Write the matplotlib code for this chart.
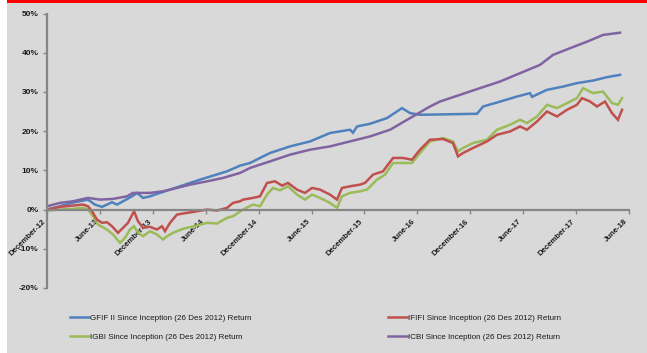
import matplotlib
matplotlib.use("Agg")
import matplotlib.pyplot as plt
from matplotlib.patches import Rectangle
from matplotlib.ticker import FuncFormatter

# months since December 2012
tick_labels = ["December-12", "June-13", "December-13", "June-14", "December-14", "June-15",
               "December-15", "June-16", "December-16", "June-17", "December-17", "June-18"]

gfif_m = [0, 1.47, 2.95, 4.65, 5.44, 6.24, 6.8, 7.37, 7.94, 8.62, 9.64, 10.21, 10.89, 11.68,
          12.81, 13.95, 15.08, 16.22, 17.35, 18.83, 20.41, 21.89, 23.02, 25.29, 27.56, 29.83,
          32.09, 34.36, 34.7, 35.16, 36.63, 38.56, 40.26, 41.17, 42.3, 48.77, 49.45, 51.03,
          53.3, 54.77, 55.0, 56.7, 58.52, 60.1, 61.92, 63.5, 64.98]
gfif_v = [0.0, 0.84, 1.78, 2.54, 1.27, 0.69, 1.27, 1.86, 1.27, 2.11, 3.38, 4.25, 2.98, 3.38,
          4.25, 5.09, 5.93, 6.79, 7.63, 8.65, 9.75, 11.2, 11.88, 14.43, 16.11, 17.38,
          19.52, 20.36, 19.59, 21.2, 21.88, 23.33, 25.88, 24.6, 24.17, 24.43, 26.28, 27.3,
          28.83, 29.69, 28.75, 30.53, 31.37, 32.24, 32.9, 33.77, 34.35]

ifif_m = [0, 1.47, 2.95, 4.08, 4.65, 5.1, 5.67, 6.24, 6.8, 7.37, 8.05, 8.62, 9.19, 9.87, 10.32,
          10.89, 11.68, 12.47, 13.04, 13.38, 13.95, 14.74, 15.88, 17.01, 18.14, 19.28, 20.41,
          21.09, 21.89, 22.23, 23.36, 24.16, 24.95, 25.86, 26.65, 27.33, 28.35, 29.26, 30.05,
          30.96, 32.09, 32.89, 33.45, 34.36, 35.5, 36.06, 36.97, 38.1, 39.24, 40.37, 41.39,
          42.3, 43.43, 44.91, 46.04, 46.61, 47.18, 48.31, 49.9, 51.03, 52.51, 53.64, 54.43,
          55.57, 56.7, 57.84, 58.97, 60.1, 60.67, 61.58, 62.37, 63.28, 64.07, 64.75, 65.21]
ifif_v = [0.0, 0.69, 1.02, 1.27, 0.84, -0.43, -2.54, -3.38, -3.23, -4.25, -5.93, -4.66, -3.38,
          -0.43, -2.98, -4.66, -4.4, -5.09, -4.25, -5.52, -3.38, -1.27, -0.84, -0.43, 0.0, -0.25,
          0.43, 1.7, 2.11, 2.54, 2.98, 3.38, 6.79, 7.2, 6.11, 6.79, 5.09, 4.25, 5.52, 5.09, 3.82,
          2.54, 5.52, 5.93, 6.36, 6.79, 8.91, 9.75, 13.16, 13.16, 12.72, 15.27, 17.81, 17.99,
          16.97, 13.56, 14.43, 15.7, 17.38, 19.08, 19.92, 21.2, 20.36, 22.47, 25.01, 23.74,
          25.45, 26.72, 28.42, 27.56, 26.28, 27.56, 24.6, 22.9, 25.45]

igbi_m = [0, 1.47, 2.95, 4.08, 4.65, 5.22, 5.78, 6.8, 7.48, 8.28, 8.85, 9.41, 9.87, 10.32,
          10.89, 11.68, 12.47, 13.16, 13.61, 14.29, 15.42, 17.01, 18.14, 19.28, 20.41, 21.09,
          22.23, 23.36, 24.16, 24.95, 25.63, 26.42, 27.33, 28.35, 29.26, 30.05, 30.96, 32.09,
          32.89, 33.45, 34.36, 35.5, 36.29, 37.42, 38.33, 39.24, 40.37, 41.39, 42.3, 43.43,
          44.91, 46.04, 46.61, 47.18, 48.31, 49.9, 51.03, 52.51, 53.64, 54.43, 55.57, 56.7,
          57.84, 58.97, 60.1, 60.79, 61.92, 63.05, 64.07, 64.75, 65.21]
igbi_v = [-0.25, 0.0, 0.18, 0.43, 0.0, -1.7, -3.82, -5.09, -6.36, -8.47, -7.2, -5.09, -4.25,
          -5.93, -6.79, -5.52, -6.36, -7.63, -6.79, -5.93, -4.91, -4.07, -3.38, -3.56, -2.11,
          -1.7, 0.0, 1.27, 0.84, 3.82, 5.52, 4.91, 5.93, 3.82, 2.54, 3.82, 2.98, 1.7, 0.43,
          3.38, 4.25, 4.66, 5.09, 7.63, 8.91, 11.88, 11.88, 11.88, 14.43, 17.38, 18.24, 17.38,
          14.83, 15.7, 16.97, 17.81, 20.36, 21.63, 22.9, 22.06, 23.74, 26.72, 25.88, 27.15,
          28.42, 30.97, 29.69, 30.1, 27.15, 26.72, 28.42]

icbi_m = [0, 1.47, 2.95, 4.65, 6.01, 7.48, 9.07, 9.75, 11.68, 13.16, 14.29, 16.22, 18.14,
          19.96, 21.89, 23.02, 25.29, 27.56, 29.83, 32.09, 34.36, 36.63, 38.9, 41.17, 43.43,
          44.57, 46.84, 49.1, 51.37, 53.64, 55.91, 57.38, 59.31, 61.24, 63.05, 64.98]
icbi_v = [0.84, 1.7, 2.11, 2.98, 2.54, 2.72, 3.38, 4.25, 4.25, 4.66, 5.27, 6.36, 7.2, 8.07,
          9.34, 10.61, 12.29, 14.0, 15.27, 16.11, 17.38, 18.65, 20.36, 23.33, 26.28, 27.56,
          29.26, 30.97, 32.65, 34.78, 36.9, 39.44, 41.15, 42.82, 44.53, 45.11]

names = ["GFIF II Since Inception (26 Des 2012) Return",
         "IGBI Since Inception (26 Des 2012) Return",
         "IFIFI Since Inception (26 Des 2012) Return",
         "ICBI Since Inception (26 Des 2012) Return"]
colors = ["#4F81BD", "#9BBB59", "#C0504D", "#8064A2"]

FONT = ["Liberation Sans", "DejaVu Sans"]
plt.rcParams["font.family"] = FONT

W, H = 647, 353
fig = plt.figure(figsize=(W / 100, H / 100), dpi=100)
fig.patch.set_facecolor("#D9D9D9")
fig.patches.append(Rectangle((0, 0), 7 / W, 1, transform=fig.transFigure,
                             facecolor="white", edgecolor="none", zorder=0))
fig.patches.append(Rectangle((7 / W, 1 - 3 / H), 1, 3 / H, transform=fig.transFigure,
                             facecolor="#FF0000", edgecolor="none", zorder=0))

left, right = 47 / W, 629 / W
top, bottom = 1 - 13.5 / H, 1 - 288 / H
ax = fig.add_axes([left, bottom, right - left, top - bottom])
ax.set_facecolor("none")

for s in ["top", "right"]:
    ax.spines[s].set_visible(False)
ax.spines["bottom"].set_position(("data", 0))
for s in ["left", "bottom"]:
    ax.spines[s].set_color("#868686")
    ax.spines[s].set_linewidth(1.6)

series = [(gfif_m, gfif_v), (igbi_m, igbi_v), (ifif_m, ifif_v), (icbi_m, icbi_v)]
handles = []
for (m, v), c, n in zip(series, colors, names):
    ln, = ax.plot(m, v, color=c, lw=1.8, label=n, solid_joinstyle="miter")
    handles.append(ln)

ax.set_xlim(0, 66)
ax.set_ylim(-20, 50)
ax.set_yticks(range(-20, 51, 10))
ax.yaxis.set_major_formatter(FuncFormatter(lambda y, p: f"{y:.0f}%"))
ax.set_xticks(range(0, 67, 6))
ax.set_xticklabels(tick_labels)
ax.tick_params(axis="y", colors="#868686", length=3, width=1, labelcolor="#1a1a1a",
               labelsize=6, pad=3)
ax.tick_params(axis="x", colors="#868686", length=3, width=1, labelcolor="#1a1a1a",
               labelsize=5.6, pad=3, labelrotation=45)
for lab in ax.get_xticklabels():
    lab.set_ha("right")
    lab.set_va("top")
    lab.set_fontweight("bold")
for lab in ax.get_yticklabels():
    lab.set_fontweight("bold")

leg_kw = dict(loc="center left", frameon=False, fontsize=5.8, handlelength=2.4,
              handletextpad=0.05, labelspacing=1.35, borderpad=0, borderaxespad=0)
ymid = 1 - 327.5 / H
leg1 = fig.legend(handles=handles[:2], bbox_to_anchor=(70 / W, ymid), **leg_kw)
leg2 = fig.legend(handles=handles[2:], bbox_to_anchor=(388 / W, ymid), **leg_kw)
for lg in (leg1, leg2):
    for t in lg.get_texts():
        t.set_color("#1a1a1a")

fig.savefig("out.png", dpi=100, facecolor=fig.get_facecolor())
